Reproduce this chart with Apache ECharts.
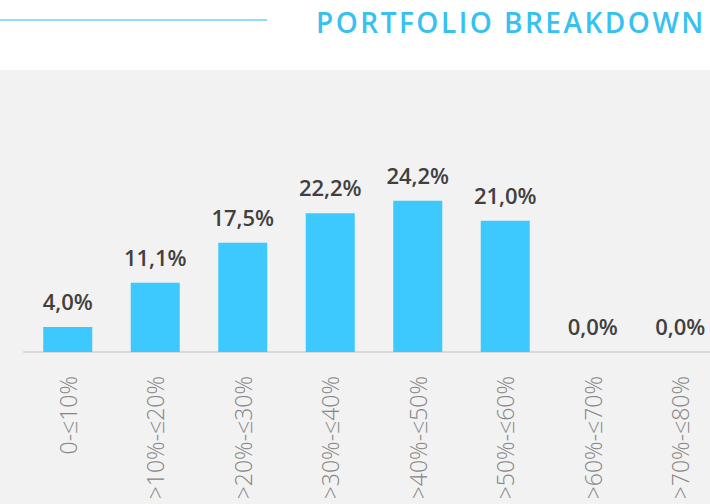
<!DOCTYPE html>
<html>
<head>
<meta charset="utf-8">
<script src="https://cdn.jsdelivr.net/npm/echarts@6/dist/echarts.min.js"></script>
<style>
html,body{margin:0;padding:0;background:#fff;}
#chart{width:710px;height:504px;}
</style>
</head>
<body>
<div id="chart"></div>
<script>
var titleText = 'PORTFOLIO BREAKDOWN';
var categories = ['0-≤10%', '>10%-≤20%', '>20%-≤30%', '>30%-≤40%', '>40%-≤50%', '>50%-≤60%', '>60%-≤70%', '>70%-≤80%'];
var values = [4.0, 11.1, 17.5, 22.2, 24.2, 21.0, 0.0, 0.0];

var chart = echarts.init(document.getElementById('chart'), null, {renderer: 'svg'});
var option = {
  animation: false,
  backgroundColor: '#ffffff',
  title: {
    text: titleText,
    left: 316,
    top: 8,
    padding: 0,
    textStyle: {
      fontFamily: 'Open Sans',
      fontWeight: 600,
      fontSize: 28,
      color: '#36c1f0'
    }
  },
  graphic: [
    {type: 'rect', z: -10, silent: true, shape: {x: 0, y: 70, width: 710, height: 434}, style: {fill: '#f2f2f2'}},
    {type: 'line', silent: true, shape: {x1: 0, y1: 20, x2: 267, y2: 20}, style: {stroke: '#93dcf6', lineWidth: 2}}
  ],
  grid: {left: 24, width: 700, top: 102, bottom: 152, containLabel: false, outerBoundsMode: 'none'},
  xAxis: {
    type: 'category',
    data: categories,
    axisLine: {show: true, lineStyle: {color: '#d9d9d9', width: 2}},
    axisTick: {show: false},
    axisLabel: {
      rotate: 90,
      interval: 0,
      margin: 24,
      fontFamily: 'Open Sans',
      fontWeight: 300,
      fontSize: 23,
      color: '#858585'
    }
  },
  yAxis: {
    type: 'value',
    min: 0,
    max: 40,
    show: false,
    splitLine: {show: false}
  },
  series: [{
    type: 'bar',
    data: values,
    barWidth: 49,
    itemStyle: {color: '#3dc8fe'},
    label: {
      show: true,
      position: 'top',
      distance: 15,
      fontFamily: 'Open Sans',
      fontWeight: 600,
      fontSize: 22,
      color: '#404040',
      formatter: function (p) { return p.value.toFixed(1).replace('.', ',') + '%'; }
    }
  }]
};
chart.setOption(option);
function spaceTitle() {
  var texts = document.querySelectorAll('#chart svg text');
  texts.forEach(function (t) {
    if (t.textContent === titleText) t.setAttribute('letter-spacing', '2.5px');
  });
}
spaceTitle();
chart.on('finished', spaceTitle);
setTimeout(spaceTitle, 50);
</script>
</body>
</html>
